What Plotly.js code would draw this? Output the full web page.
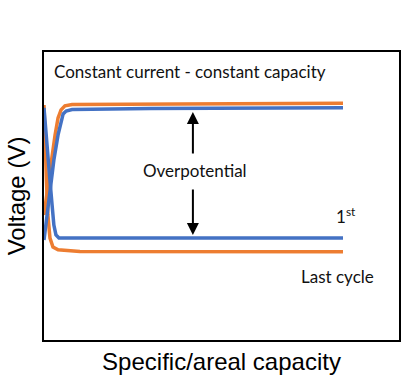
<!DOCTYPE html>
<html>
<head>
<meta charset="utf-8">
<script src="https://cdn.plot.ly/plotly-3.0.1.min.js"></script>
<style>html,body{margin:0;padding:0;background:#fff;}#chart{width:411px;height:379px;}</style>
</head>
<body>
<div id="chart"></div>
<script>
// Schematic capacity (arbitrary units, 1 = end of cycle) and voltage (arbitrary units)
const firstChargeCap  = [0, 0.010, 0.020, 0.033, 0.047, 0.057, 0.064, 0.074, 0.094, 0.355, 1.0];
const firstChargeV    = [0.347, 0.434, 0.521, 0.625, 0.712, 0.764, 0.785, 0.795, 0.800, 0.804, 0.806];
const firstDischCap   = [0, 0.007, 0.017, 0.027, 0.033, 0.040, 0.050, 1.0];
const firstDischV     = [0.806, 0.729, 0.590, 0.469, 0.399, 0.365, 0.354, 0.354];
const lastChargeCap   = [0, 0.010, 0.023, 0.037, 0.047, 0.057, 0.070, 0.094, 0.548, 0.562, 1.0];
const lastChargeV     = [0.434, 0.503, 0.608, 0.712, 0.771, 0.799, 0.813, 0.818, 0.819, 0.822, 0.822];
const lastDischCap    = [0, 0.003, 0.008, 0.013, 0.020, 0.030, 0.047, 0.120, 1.0];
const lastDischV      = [0.816, 0.694, 0.556, 0.434, 0.354, 0.323, 0.313, 0.307, 0.306];

const labels = {
  title: "Constant current - constant capacity",
  overpotential: "Overpotential",
  first: "1<sup>st</sup>",
  last: "Last cycle",
  xTitle: "Specific/areal capacity",
  yTitle: "Voltage (V)"
};

const BLUE = "#4472C4", ORANGE = "#ED7D31";
const lw = 3.5;
const traces = [
  {x: lastChargeCap, y: lastChargeV, mode: "lines", line: {color: ORANGE, width: lw}},
  {x: lastDischCap, y: lastDischV, mode: "lines", line: {color: ORANGE, width: lw}},
  {x: firstChargeCap, y: firstChargeV, mode: "lines", line: {color: BLUE, width: lw}},
  {x: firstDischCap, y: firstDischV, mode: "lines", line: {color: BLUE, width: lw}}
];

const textFont = {family: "Lato, 'Open Sans', sans-serif", size: 17, color: "#111"};
const axFont = {family: "Liberation Sans, Arial, sans-serif", size: 24, color: "#000"};
const layout = {
  width: 411, height: 379,
  margin: {l: 44, r: 12, t: 52, b: 39},
  paper_bgcolor: "#fff", plot_bgcolor: "#fff",
  showlegend: false,
  xaxis: {range: [0, 1.1873], showgrid: false, zeroline: false, showticklabels: false, ticks: "",
          showline: true, mirror: true, linecolor: "#000", linewidth: 2, fixedrange: true,
          title: {text: labels.xTitle, standoff: 12, font: axFont}},
  yaxis: {range: [0, 1], showgrid: false, zeroline: false, showticklabels: false, ticks: "",
          showline: true, mirror: true, linecolor: "#000", linewidth: 2, fixedrange: true,
          title: {text: labels.yTitle, standoff: 10, font: axFont}},
  annotations: [
    {xref: "paper", yref: "paper", x: 0.022, y: 0.931, xanchor: "left", yanchor: "middle",
     text: labels.title, showarrow: false, font: textFont},
    {x: 0.505, y: 0.590, text: labels.overpotential, showarrow: false, font: textFont},
    {x: 0.498, y: 0.792, ax: 0.498, ay: 0.642, axref: "x", ayref: "y", text: "",
     showarrow: true, arrowhead: 2, arrowsize: 1.2, arrowwidth: 2, arrowcolor: "#000"},
    {x: 0.498, y: 0.365, ax: 0.498, ay: 0.528, axref: "x", ayref: "y", text: "",
     showarrow: true, arrowhead: 2, arrowsize: 1.2, arrowwidth: 2, arrowcolor: "#000"},
    {x: 1.01, y: 0.434, text: labels.first, showarrow: false, font: textFont},
    {x: 0.98, y: 0.219, text: labels.last, showarrow: false, font: textFont}
  ]
};

Plotly.newPlot("chart", traces, layout, {displayModeBar: false, staticPlot: true});
</script>
</body>
</html>
